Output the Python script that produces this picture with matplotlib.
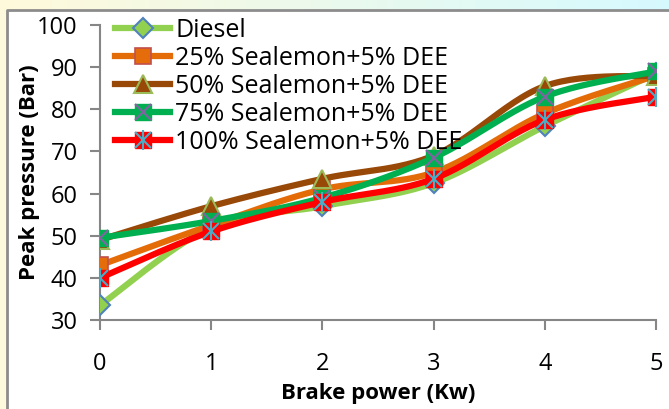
import numpy as np
import matplotlib
matplotlib.use('Agg')
import matplotlib.pyplot as plt
from matplotlib.lines import Line2D
from matplotlib.legend_handler import HandlerTuple

plt.rcParams['font.family'] = ['Open Sans', 'DejaVu Sans']

# data
brake_power = [0, 1, 2, 3, 4, 5]
diesel = [33.5, 52, 57, 62.5, 76, 88.5]
s25 = [43, 52.5, 61, 65, 79, 88]
s50 = [49, 57, 63.5, 69, 85.5, 88]
s75 = [49.5, 53.5, 59, 68.5, 83, 89]
s100 = [40, 51, 58, 63.5, 77.5, 83]
labels = ['Diesel', '25% Sealemon+5% DEE', '50% Sealemon+5% DEE',
          '75% Sealemon+5% DEE', '100% Sealemon+5% DEE']
yticks = [30, 40, 50, 60, 70, 80, 90, 100]


def smooth(x, y, n=30):
    # excel-like smoothed line (catmull-rom through the points)
    x = np.asarray(x, float)
    y = np.asarray(y, float)
    px = np.concatenate([[x[0]], x, [x[-1]]])
    py = np.concatenate([[y[0]], y, [y[-1]]])
    xs, ys = [], []
    t = np.linspace(0, 1, n)
    for i in range(1, len(px) - 2):
        p0 = np.array([px[i], py[i]])
        p3 = np.array([px[i + 1], py[i + 1]])
        p1 = p0 + (np.array([px[i + 1], py[i + 1]]) - np.array([px[i - 1], py[i - 1]])) / 6
        p2 = p3 - (np.array([px[i + 2], py[i + 2]]) - np.array([px[i], py[i]])) / 6
        b = ((1 - t) ** 3)[:, None] * p0 + (3 * (1 - t) ** 2 * t)[:, None] * p1 \
            + (3 * (1 - t) * t ** 2)[:, None] * p2 + (t ** 3)[:, None] * p3
        xs.extend(b[:, 0])
        ys.extend(b[:, 1])
    return xs, ys


fig = plt.figure(figsize=(6.69, 4.09), dpi=100)

# background: gradient strip on top, frame line
bg = fig.add_axes([0, 0, 1, 1], zorder=-10)
bg.axis('off')
grad = np.linspace(0, 1, 256)
c1 = np.array([1.0, 0.98, 0.86])
c2 = np.array([0.84, 0.98, 1.0])
img = c1[None, :] * (1 - grad[:, None]) + c2[None, :] * grad[:, None]
bg.imshow(img[None, :, :], extent=[0, 669, 10, 0], aspect='auto')
bg.fill_between([0, 7], 10, 409, color='#fdf9dc')
bg.plot([7, 7, 669], [409, 10, 10], color='#8c8c8c', lw=2)
bg.set_xlim(0, 669)
bg.set_ylim(409, 0)

ax = fig.add_axes([0.1495, 0.2176, 0.9806 - 0.1495, 0.9389 - 0.2176])
ax.set_facecolor('none')

lw = 4.5
ms = 12
handles = []

x, y = smooth(brake_power, diesel)
ax.plot(x, y, color='#92D050', lw=lw)
ax.plot(brake_power, diesel, ls='none', marker='D', ms=ms - 2, mfc='#92D050', mec='#4F81BD', mew=1.5)
handles.append((Line2D([], [], color='#92D050', lw=lw, marker='D', ms=ms - 2, mfc='#92D050', mec='#4F81BD', mew=1.5),))

x, y = smooth(brake_power, s25)
ax.plot(x, y, color='#E36C09', lw=lw)
ax.plot(brake_power, s25, ls='none', marker='s', ms=ms, mfc='#E46C0A', mec='#C0504D', mew=1.2)
handles.append((Line2D([], [], color='#E36C09', lw=lw, marker='s', ms=ms, mfc='#E46C0A', mec='#C0504D', mew=1.2),))

x, y = smooth(brake_power, s50)
ax.plot(x, y, color='#984807', lw=lw)
ax.plot(brake_power, s50, ls='none', marker='^', ms=ms + 1, mfc='#984807', mec='#9BBB59', mew=1.5)
handles.append((Line2D([], [], color='#984807', lw=lw, marker='^', ms=ms + 1, mfc='#984807', mec='#9BBB59', mew=1.5),))

x, y = smooth(brake_power, s75)
ax.plot(x, y, color='#00B050', lw=lw)
ax.plot(brake_power, s75, ls='none', marker='s', ms=ms, mfc='#00B050', mec='#00B050')
ax.plot(brake_power, s75, ls='none', marker='x', ms=ms, mec='#8064A2', mew=1.5)
handles.append((Line2D([], [], color='#00B050', lw=lw, marker='s', ms=ms, mfc='#00B050', mec='#00B050'),
                Line2D([], [], ls='none', marker='x', ms=ms, mec='#8064A2', mew=1.5)))

x, y = smooth(brake_power, s100)
ax.plot(x, y, color='#FF0000', lw=lw)
ax.plot(brake_power, s100, ls='none', marker='s', ms=ms, mfc='#FF0000', mec='#FF0000')
ax.plot(brake_power, s100, ls='none', marker='x', ms=ms, mec='#4BACC6', mew=1.5)
ax.plot(brake_power, s100, ls='none', marker='|', ms=ms + 2, mec='#4BACC6', mew=1.5)
handles.append((Line2D([], [], color='#FF0000', lw=lw, marker='s', ms=ms, mfc='#FF0000', mec='#FF0000'),
                Line2D([], [], ls='none', marker='x', ms=ms, mec='#4BACC6', mew=1.5),
                Line2D([], [], ls='none', marker='|', ms=ms + 2, mec='#4BACC6', mew=1.5)))

ax.set_xlim(0, 5)
ax.set_ylim(30, 100)
ax.set_yticks(yticks)
ax.set_xticks(brake_power)
for s in ['top', 'right']:
    ax.spines[s].set_visible(False)
for s in ['left', 'bottom']:
    ax.spines[s].set_color('#868686')
    ax.spines[s].set_linewidth(1.5)
    ax.spines[s].set_zorder(0)
ax.tick_params(axis='both', direction='out', length=7, width=1.5, color='#868686', labelsize=17)
ax.tick_params(axis='x', pad=16)
ax.tick_params(axis='y', pad=9)

ax.set_xlabel('Brake power (Kw)', fontsize=16, fontweight='bold', labelpad=5)
ax.set_ylabel('Peak pressure (Bar)', fontsize=16, fontweight='bold', labelpad=-2)

ax.legend(handles, labels, loc='upper left', bbox_to_anchor=(0.027, 1.023), frameon=False,
          fontsize=18, handlelength=2.2, handletextpad=0.2, labelspacing=0.12,
          borderpad=0, borderaxespad=0, handler_map={tuple: HandlerTuple(ndivide=1)})

fig.savefig('out.png', dpi=100)
